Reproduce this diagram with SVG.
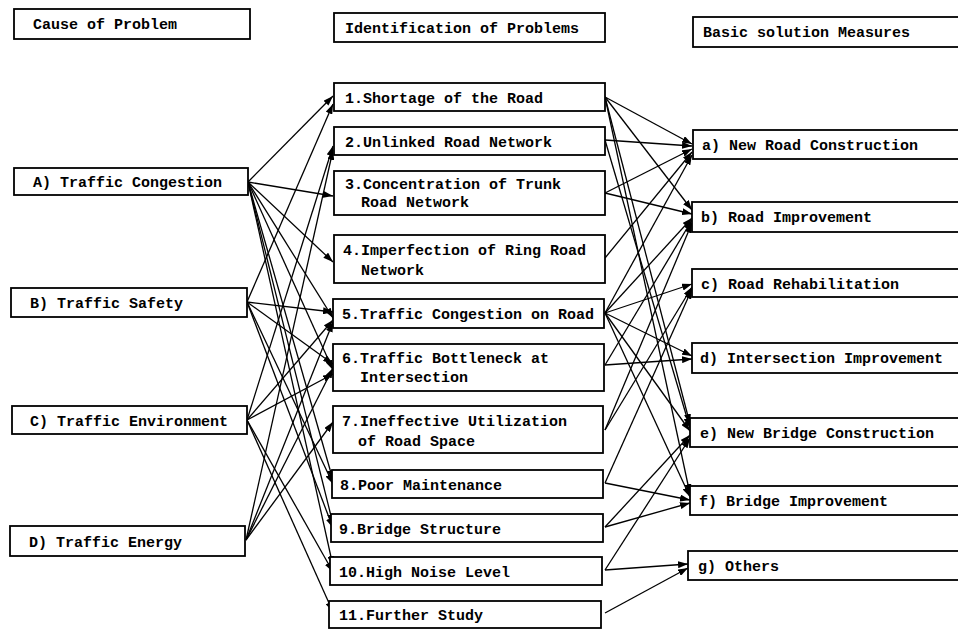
<svg xmlns="http://www.w3.org/2000/svg" width="958" height="630" viewBox="0 0 958 630">
<style>
.box{fill:#fff;stroke:#000;stroke-width:1.8}
.t{font-family:"Liberation Mono","DejaVu Sans Mono",monospace;font-size:15px;fill:#000;font-weight:bold}
.c{stroke:#000;stroke-width:1.3;fill:none;marker-end:url(#ah)}
</style>
<defs>
<marker id="ah" markerUnits="userSpaceOnUse" markerWidth="10" markerHeight="7" refX="10" refY="3.5" orient="auto">
<path d="M0,0 L10,3.5 L0,7 z" fill="#000"/>
</marker>
</defs>
<rect width="958" height="630" fill="#fff"/>
<g id="connectors">
<!-- causes to problems -->
<path class="c" d="M248,182 L333,96"/>
<path class="c" d="M248,182 L333,196"/>
<path class="c" d="M248,182 L333,262"/>
<path class="c" d="M248,182 L333,318"/>
<path class="c" d="M248,182 L333,370"/>
<path class="c" d="M248,182 L333,480"/>
<path class="c" d="M248,182 L333,524"/>
<path class="c" d="M248,182 L333,566"/>
<path class="c" d="M247,302 L333,104"/>
<path class="c" d="M247,302 L333,312"/>
<path class="c" d="M247,302 L333,364"/>
<path class="c" d="M247,302 L333,484"/>
<path class="c" d="M247,302 L333,528"/>
<path class="c" d="M247,420 L333,146"/>
<path class="c" d="M247,420 L333,320"/>
<path class="c" d="M247,420 L333,374"/>
<path class="c" d="M247,420 L333,572"/>
<path class="c" d="M247,420 L333,612"/>
<path class="c" d="M246,540 L333,150"/>
<path class="c" d="M246,540 L333,322"/>
<path class="c" d="M246,540 L333,368"/>
<path class="c" d="M246,540 L333,422"/>
<!-- problems to measures -->
<path class="c" d="M605,97 L692,144"/>
<path class="c" d="M605,97 L692,210"/>
<path class="c" d="M605,97 L690,424"/>
<path class="c" d="M605,97 L690,494"/>
<path class="c" d="M605,140 L692,146"/>
<path class="c" d="M605,140 L690,428"/>
<path class="c" d="M605,193 L692,149"/>
<path class="c" d="M605,193 L692,214"/>
<path class="c" d="M605,258 L692,152"/>
<path class="c" d="M605,313 L692,155"/>
<path class="c" d="M605,313 L692,218"/>
<path class="c" d="M605,313 L692,284"/>
<path class="c" d="M605,313 L692,356"/>
<path class="c" d="M605,313 L690,431"/>
<path class="c" d="M605,313 L690,497"/>
<path class="c" d="M605,365 L692,359"/>
<path class="c" d="M605,365 L692,220"/>
<path class="c" d="M605,430 L692,223"/>
<path class="c" d="M605,430 L692,287"/>
<path class="c" d="M605,483 L692,289"/>
<path class="c" d="M605,483 L690,500"/>
<path class="c" d="M605,527 L690,435"/>
<path class="c" d="M605,527 L690,503"/>
<path class="c" d="M605,570 L690,438"/>
<path class="c" d="M605,570 L688,564"/>
<path class="c" d="M605,613 L688,568"/>
</g>
<g id="h1"><rect class="box" x="14" y="9" width="236" height="30"/><text class="t" x="33" y="29">Cause of Problem</text></g>
<g id="h2"><rect class="box" x="334" y="13" width="271" height="29"/><text class="t" x="345" y="33">Identification of Problems</text></g>
<g id="h3"><rect class="box" x="693" y="17" width="280" height="30"/><text class="t" x="703" y="37">Basic solution Measures</text></g>
<g id="A"><rect class="box" x="14" y="168" width="234" height="27"/><text class="t" x="33" y="187">A) Traffic Congestion</text></g>
<g id="B"><rect class="box" x="11" y="288" width="236" height="29"/><text class="t" x="30" y="308">B) Traffic Safety</text></g>
<g id="C"><rect class="box" x="12" y="406" width="235" height="28"/><text class="t" x="30" y="426">C) Traffic Environment</text></g>
<g id="D"><rect class="box" x="10" y="526" width="235" height="30"/><text class="t" x="29" y="547">D) Traffic Energy</text></g>
<g id="p1"><rect class="box" x="334" y="83" width="271" height="28"/><text class="t" x="345" y="103">1.Shortage of the Road</text></g>
<g id="p2"><rect class="box" x="334" y="127" width="271" height="28"/><text class="t" x="345" y="147">2.Unlinked Road Network</text></g>
<g id="p3"><rect class="box" x="334" y="171" width="271" height="44"/><text class="t" x="345" y="189">3.Concentration of Trunk</text><text class="t" x="361" y="207">Road Network</text></g>
<g id="p4"><rect class="box" x="334" y="235" width="271" height="48"/><text class="t" x="343" y="255">4.Imperfection of Ring Road</text><text class="t" x="361" y="275">Network</text></g>
<g id="p5"><rect class="box" x="333" y="299" width="271" height="29"/><text class="t" x="342" y="319">5.Traffic Congestion on Road</text></g>
<g id="p6"><rect class="box" x="333" y="344" width="271" height="47"/><text class="t" x="342" y="363">6.Traffic Bottleneck at</text><text class="t" x="360" y="382">Intersection</text></g>
<g id="p7"><rect class="box" x="333" y="406" width="270" height="47"/><text class="t" x="342" y="426">7.Ineffective Utilization</text><text class="t" x="358" y="446">of Road Space</text></g>
<g id="p8"><rect class="box" x="332" y="470" width="271" height="28"/><text class="t" x="340" y="490">8.Poor Maintenance</text></g>
<g id="p9"><rect class="box" x="331" y="514" width="272" height="28"/><text class="t" x="339" y="534">9.Bridge Structure</text></g>
<g id="p10"><rect class="box" x="330" y="557" width="272" height="28"/><text class="t" x="339" y="577">10.High Noise Level</text></g>
<g id="p11"><rect class="box" x="329" y="601" width="272" height="27"/><text class="t" x="339" y="620">11.Further Study</text></g>
<g id="ma"><rect class="box" x="693" y="130" width="280" height="29"/><text class="t" x="702" y="150">a) New Road Construction</text></g>
<g id="mb"><rect class="box" x="692" y="202" width="280" height="30"/><text class="t" x="701" y="222">b) Road Improvement</text></g>
<g id="mc"><rect class="box" x="692" y="269" width="280" height="28"/><text class="t" x="701" y="289">c) Road Rehabilitation</text></g>
<g id="md"><rect class="box" x="692" y="343" width="280" height="30"/><text class="t" x="700" y="363">d) Intersection Improvement</text></g>
<g id="me"><rect class="box" x="690" y="418" width="282" height="29"/><text class="t" x="700" y="438">e) New Bridge Construction</text></g>
<g id="mf"><rect class="box" x="690" y="486" width="282" height="29"/><text class="t" x="699" y="506">f) Bridge Improvement</text></g>
<g id="mg"><rect class="box" x="688" y="551" width="284" height="29"/><text class="t" x="698" y="571">g) Others</text></g>
</svg>
